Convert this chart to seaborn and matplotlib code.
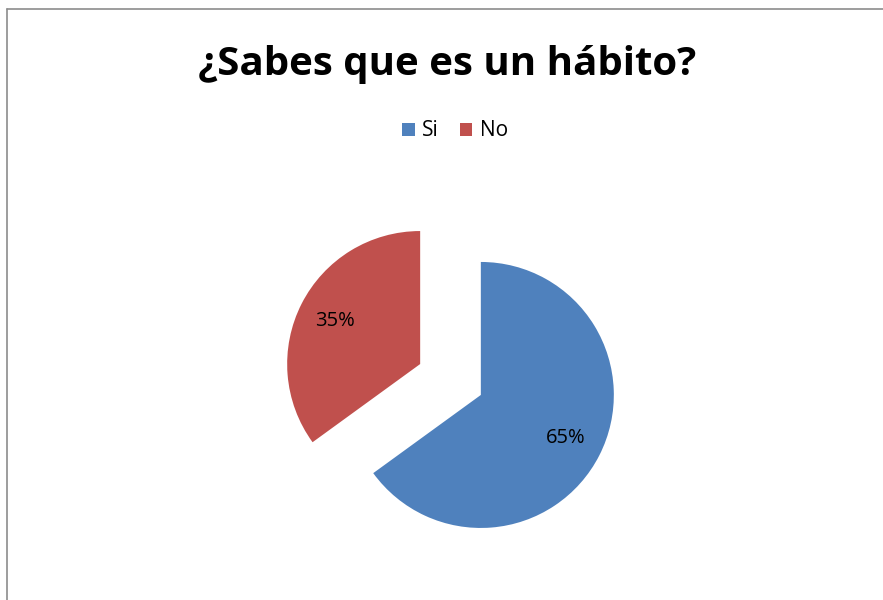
import matplotlib
matplotlib.use("Agg")
import matplotlib.pyplot as plt
import seaborn as sns
from matplotlib.lines import Line2D
from matplotlib.patches import Patch

sns.set_theme(style="white")
plt.rcParams['font.family'] = ['Open Sans', 'DejaVu Sans']

categories = ["Si", "No"]
values = [65, 35]
colors = ["#4F81BD", "#C0504D"]
title = "¿Sabes que es un hábito?"

W, H = 883, 600
fig = plt.figure(figsize=(W / 100, H / 100), dpi=100)
fig.patch.set_facecolor("white")

# axes placed so that pie radius ~133 px, center ~ (450.5, 379.5)
side = 399
cx, cy = 450.5, 379.5
ax = fig.add_axes([(cx - side / 2) / W, (H - cy - side / 2) / H, side / W, side / H])
ax.pie(values, colors=colors, startangle=90, counterclock=False,
       explode=[0.256, 0.256], autopct="%1.0f%%", pctdistance=0.72,
       textprops=dict(fontsize=14.5, color="black"),
       wedgeprops=dict(linewidth=0))
ax.set_xlim(-1.5, 1.5)
ax.set_ylim(-1.5, 1.5)
ax.set_aspect("equal")
ax.axis("off")

fig.text(447 / W, 1 - 65 / H, title, ha="center", va="center",
         fontsize=29, fontweight="bold", color="black")

handles = [Patch(facecolor=c, edgecolor="none") for c in colors]
fig.legend(handles, categories, loc="center", bbox_to_anchor=(455 / W, 1 - 131 / H),
           ncol=2, frameon=False, fontsize=15, handlelength=0.6, handleheight=0.6,
           handletextpad=0.35, columnspacing=1.0, labelcolor="black")

# chart border (gray), top and left visible
fig.add_artist(Line2D([7.5 / W, 1.0], [1 - 8.5 / H, 1 - 8.5 / H], color="#8c8c8c", lw=1.2))
fig.add_artist(Line2D([7.5 / W, 7.5 / W], [0, 1 - 8.5 / H], color="#8c8c8c", lw=1.2))

fig.savefig("out.png", dpi=100, facecolor="white")
